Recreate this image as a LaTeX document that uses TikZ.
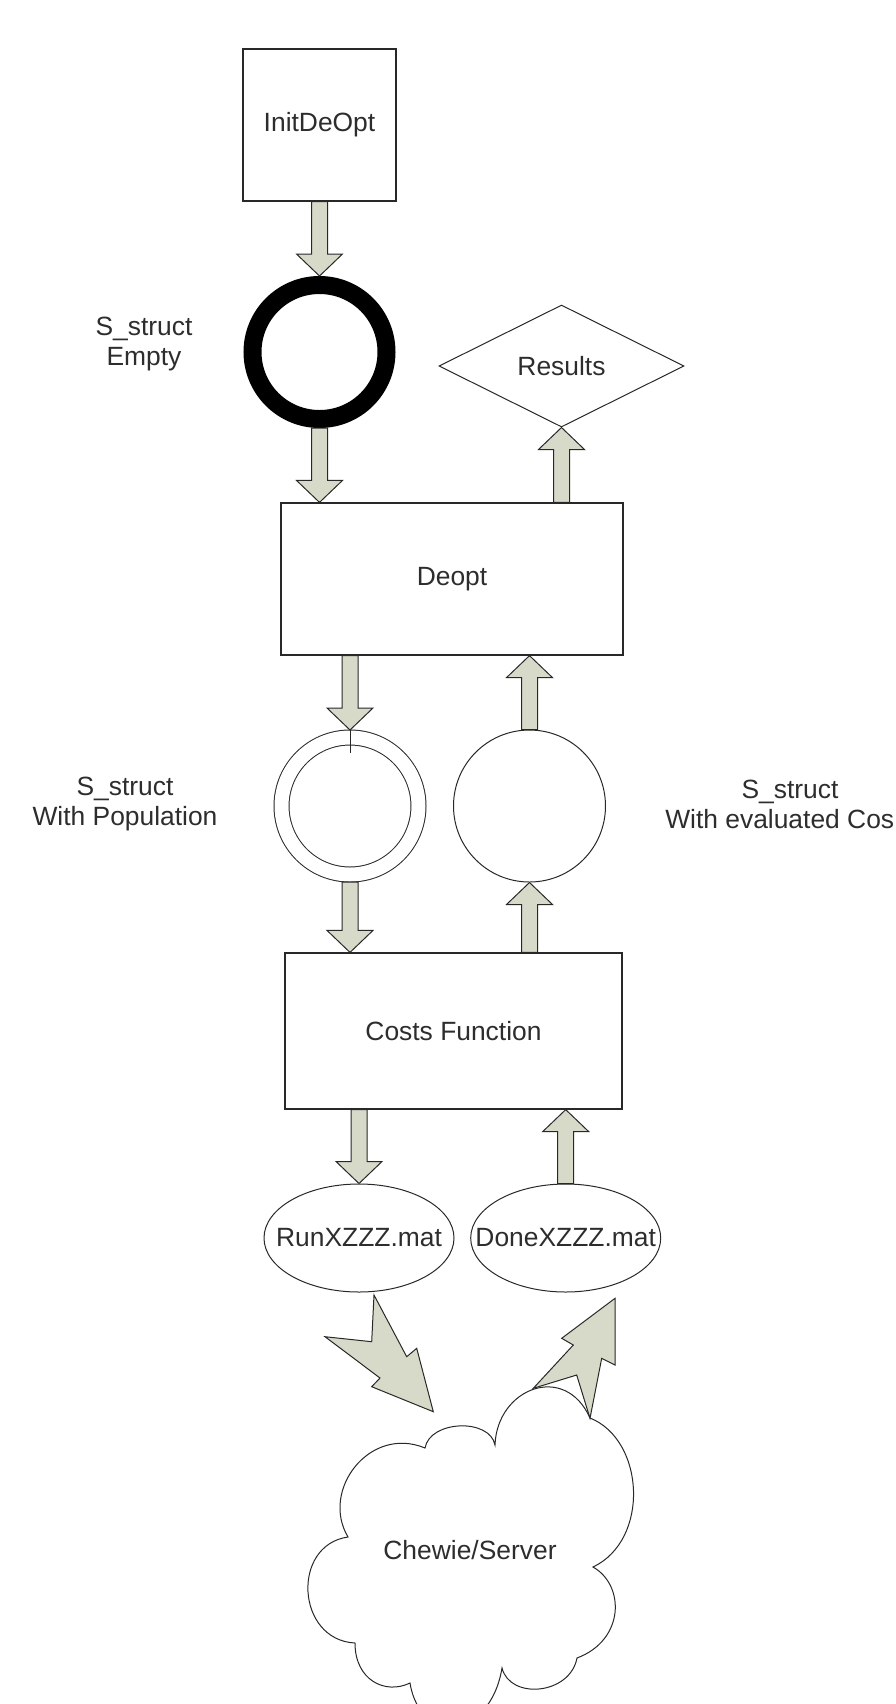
\documentclass[tikz,border=0pt]{standalone}
\usepackage{fontspec}
\setmainfont{Liberation Sans}
\usetikzlibrary{shapes.geometric}
\usetikzlibrary{calc}
\definecolor{arrowfill}{RGB}{216,218,201}
\definecolor{linegray}{RGB}{40,40,40}
\definecolor{textgray}{RGB}{45,45,45}

\begin{document}
\begin{tikzpicture}[x=0.5pt, y=-0.5pt,
	every node/.style={font=\fontsize{13.2}{15}\selectfont, text=textgray},
	blk/.style={draw=linegray, line width=0.6pt, rectangle, fill=white, inner sep=0pt},
	ell/.style={ellipse, draw=linegray, line width=0.5pt, minimum width=95pt,
		minimum height=54pt, inner sep=0pt},
	lbl/.style={align=center},
	fat/.style={draw=linegray, line width=0.5pt, fill=arrowfill, line join=miter,
		to path={($(\tikztostart)!4pt!90:(\tikztotarget)$)
			-- ($(\tikztotarget)!11pt!(\tikztostart)!4pt!-90:(\tikztostart)$)
			-- ($(\tikztotarget)!11pt!(\tikztostart)!11.5pt!-90:(\tikztostart)$)
			-- (\tikztotarget)
			-- ($(\tikztotarget)!11pt!(\tikztostart)!11.5pt!90:(\tikztostart)$)
			-- ($(\tikztotarget)!11pt!(\tikztostart)!4pt!90:(\tikztostart)$)
			-- ($(\tikztostart)!4pt!-90:(\tikztotarget)$) -- cycle}},
	bolt/.style={draw=linegray, line width=0.5pt, fill=arrowfill, line join=miter}]
	\useasboundingbox (0,0) rectangle (895,1704);
	\clip (0,0) rectangle (895,1704);
	\node[blk, minimum width=76.5pt, minimum height=76pt] (init) at (319.5,125) {InitDeOpt};
	\node[circle, draw=black, line width=9pt, minimum size=67pt, inner sep=0pt] (emptyS) at (319.5,352) {};
	\node[diamond, draw=linegray, line width=0.5pt, aspect=2, minimum width=122.5pt,
		minimum height=61pt, inner sep=0pt] (results) at (561.5,366) {Results};
	\node[blk, minimum width=171pt, minimum height=76pt] (deopt) at (452,579) {Deopt};
	\node[circle, draw=linegray, line width=0.5pt, double, double distance=7pt,
		minimum size=68.5pt, inner sep=0pt, outer sep=3.75pt] (pop) at (350,806) {};
	\node[circle, draw=linegray, line width=0.5pt, minimum size=76pt, inner sep=0pt] (eval) at (529.5,806) {};
	\node[blk, minimum width=168.5pt, minimum height=78pt] (costs) at (453.5,1031) {Costs Function};
	\node[ell, label=center:{RunXZZZ.mat}] (run) at (359,1238) {};
	\node[ell, label=center:{DoneXZZZ.mat}] (done) at (565.7,1238) {};
	\node[lbl] (lblempty) at (144,344) {S\_struct\\Empty};
	\node[lbl] (lblpop) at (125,804) {S\_struct\\With Population};
	\node[lbl] (lbleval) at (790,804) {S\_struct\\With evaluated Cos\phantom{ts}};
	\draw[linegray, line width=0.5pt]
		(425,1448) .. controls (430,1420) and (490,1418) .. (495,1445)
		.. controls (497,1388) and (565,1362) .. (590,1418)
		.. controls (645,1440) and (650,1540) .. (593,1567)
		.. controls (625,1585) and (625,1640) .. (577,1658)
		.. controls (570,1695) and (510,1700) .. (502,1668)
		.. controls (490,1740) and (420,1745) .. (410,1683)
		.. controls (385,1695) and (355,1680) .. (355,1643)
		.. controls (296,1640) and (291,1545) .. (348,1537)
		.. controls (320,1490) and (370,1425) .. (425,1448) -- cycle;
	\node (server) at (470,1550) {Chewie/Server};
	\draw[fat] (init.south) to (emptyS.north);
	\draw[fat] (emptyS.south) to (emptyS.south |- deopt.north);
	\draw[fat] (results.south |- deopt.north) to (results.south);
	\draw[fat] (pop.north |- deopt.south) to (pop.north);
	\draw[fat] (eval.north) to (eval.north |- deopt.south);
	\draw[fat] (pop.south) to (pop.south |- costs.north);
	\draw[fat] (eval.south |- costs.north) to (eval.south);
	\draw[fat] (run.north |- costs.south) to (run.north);
	\draw[fat] (done.north) to (done.north |- costs.south);
	\draw[linegray, line width=0.5pt] (pop.north) -- ++(0,23);
	\draw[bolt] (374,1295) -- (406.7,1356.7) -- (416.7,1348.3) -- (433.3,1411.7)
		-- (371.7,1386.7) -- (380,1378) -- (325,1336.7) -- (371.7,1341.7) -- cycle;
	\draw[bolt] (615,1298.3) -- (615,1365) -- (601.7,1358.3) -- (590,1418.3)
		-- (576.7,1375) -- (533.3,1388.3) -- (573.3,1345) -- (561.7,1338.3) -- cycle;
\end{tikzpicture}
\end{document}
